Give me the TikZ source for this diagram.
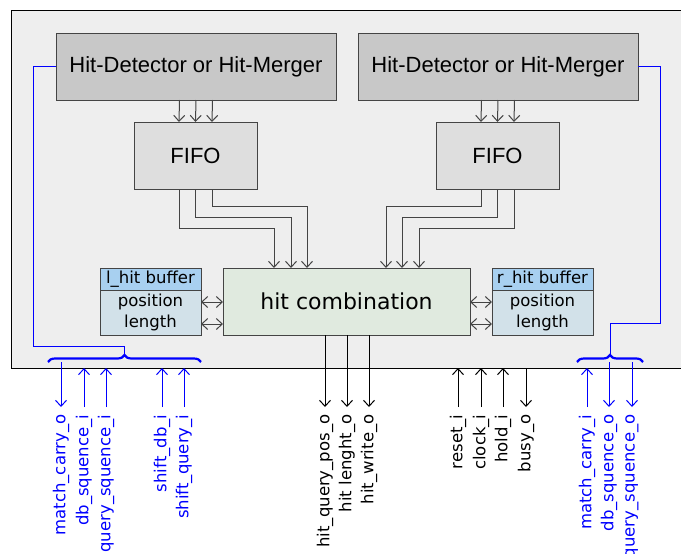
\documentclass[tikz,border=0pt]{standalone}
\usepackage{fontspec}
\setmainfont{DejaVu Sans}
\newfontfamily\arialfont{Liberation Sans}
\usetikzlibrary{arrows.meta,decorations.pathreplacing,calc}

\definecolor{boxline}{RGB}{68,68,68}
\definecolor{framegray}{RGB}{238,238,238}
\definecolor{hdgray}{RGB}{200,200,200}
\definecolor{fifogray}{RGB}{222,222,222}
\definecolor{combgreen}{RGB}{224,234,223}
\definecolor{bufhead}{RGB}{168,208,240}
\definecolor{bufbody}{RGB}{210,225,233}

\begin{document}
\begin{tikzpicture}[x=1pt, y=-1pt,
    >={Straight Barb[length=6pt,width=11pt]},
    every node/.style={inner sep=0pt, outer sep=0pt},
    block/.style={draw=boxline, line width=1pt},
    arialtext/.style={font=\arialfont\fontsize{22}{26}\selectfont},
    buftext/.style={font=\fontsize{16.5}{20.5}\selectfont, align=center},
    wire/.style={draw=boxline, line width=1pt},
    bus/.style={draw=blue, line width=1pt},
    sig/.style={font=\fontsize{16.5}{19}\selectfont, rotate=90, anchor=east, inner xsep=7.5pt, inner ysep=2pt}]
    \useasboundingbox (0,0) rectangle (681,554);

    % outer frame
    \node[draw=black, fill=framegray, line width=1pt, minimum width=689, minimum height=358] (frame) at (355.5,189) {};

    % blocks
    \node[block, arialtext, fill=hdgray, minimum width=280, minimum height=67] (hdl) at (196,66.5) {Hit-Detector or Hit-Merger};
    \node[block, arialtext, fill=hdgray, minimum width=280, minimum height=67] (hdr) at (498,66.5) {Hit-Detector or Hit-Merger};
    \node[block, arialtext, fill=fifogray, minimum width=123, minimum height=67] (fifol) at (195.5,155.5) {FIFO};
    \node[block, arialtext, fill=fifogray, minimum width=123, minimum height=67] (fifor) at (497.5,155.5) {FIFO};
    \node[block, fill=combgreen, minimum width=247, minimum height=67, font=\fontsize{22}{26}\selectfont] (comb) at (346.5,301.5) {hit combination};

    \node[block, buftext, fill=bufhead, minimum width=101, minimum height=22] (lbufh) at (150.5,279) {l\_hit buffer};
    \node[block, buftext, fill=bufbody, minimum width=101, minimum height=45] (lbuf) at (150.5,312.5) {position\\length};
    \node[block, buftext, fill=bufhead, minimum width=101, minimum height=22] (rbufh) at (542.5,279) {r\_hit buffer};
    \node[block, buftext, fill=bufbody, minimum width=101, minimum height=45] (rbuf) at (542.5,312.5) {position\\length};

    % detector to fifo
    \foreach \d in {-16.5, 0, 16.5} {
      \draw[wire, ->] ([xshift=\d pt]hdl.south) -- ([xshift=\d pt]fifol.north);
      \draw[wire, ->] ([xshift=\d pt]hdr.south) -- ([xshift=\d pt]fifor.north);
    }

    % fifo to hit combination
    \foreach \a/\b/\dy in {-16.5/-72.5/39, 0/-55.5/28, 16.5/-39.5/17}
      \draw[wire, ->] ([xshift=\a pt]fifol.south) -- ++(0,\dy) -| ([xshift=\b pt]comb.north);
    \foreach \a/\b/\dy in {-16.5/39.5/17, 0/55.5/28, 16.5/72.5/39}
      \draw[wire, ->] ([xshift=\a pt]fifor.south) -- ++(0,\dy) -| ([xshift=\b pt]comb.north);

    % buffers
    \foreach \dy in {10.5, -11.5} {
      \draw[wire, <->] ([yshift=\dy pt]lbuf.east) -- ([yshift=\dy pt]lbuf.east -| comb.west);
      \draw[wire, <->] ([yshift=\dy pt]rbuf.west) -- ([yshift=\dy pt]rbuf.west -| comb.east);
    }

    % braces
    \coordinate (lbl) at (48,362);
    \coordinate (lbr) at (201,362);
    \coordinate (lbt) at (124.5,355);
    \coordinate (rbl) at (577,362);
    \coordinate (rbr) at (643,362);
    \coordinate (rbt) at (610,355);
    \draw[bus, line width=2.2pt, decorate, decoration={brace, amplitude=7pt}] (lbl) -- (lbr);
    \draw[bus, line width=2.2pt, decorate, decoration={brace, amplitude=7pt}] (rbl) -- (rbr);
    \draw[bus] (hdl.west) -| (33,346) -| (lbt);
    \draw[bus] (hdr.east) -| (660,323) -| (rbt);

    % left signals
    \node[sig, text=blue] (mco) at (61,407) {match\_carry\_o};
    \node[sig, text=blue] (dsi) at (84,407) {db\_squence\_i};
    \node[sig, text=blue] (qsi) at (106,407) {query\_squence\_i};
    \node[sig, text=blue] (sdi) at (162,407) {shift\_db\_i};
    \node[sig, text=blue] (sqi) at (184,407) {shift\_query\_i};
    \draw[bus, ->] (mco.east |- lbl) -- (mco.east);
    \draw[bus, ->] (dsi.east) -- (dsi.east |- frame.south);
    \draw[bus, ->] (qsi.east) -- (qsi.east |- frame.south);
    \draw[bus, ->] (sdi.east) -- (sdi.east |- frame.south);
    \draw[bus, ->] (sqi.east) -- (sqi.east |- frame.south);

    % middle signals
    \node[sig] (hqp) at (325,407) {hit\_query\_pos\_o};
    \node[sig] (hlo) at (347,407) {hit lenght\_o};
    \node[sig] (hwo) at (369,407) {hit\_write\_o};
    \node[sig] (rst) at (458,407) {reset\_i};
    \node[sig] (clk) at (481,407) {clock\_i};
    \node[sig] (hld) at (503,407) {hold\_i};
    \node[sig] (bsy) at (526,407) {busy\_o};
    \draw[->, line width=1pt] (hqp.east |- comb.south) -- (hqp.east);
    \draw[->, line width=1pt] (hlo.east |- comb.south) -- (hlo.east);
    \draw[->, line width=1pt] (hwo.east |- comb.south) -- (hwo.east);
    \draw[->, line width=1pt] (rst.east) -- (rst.east |- frame.south);
    \draw[->, line width=1pt] (clk.east) -- (clk.east |- frame.south);
    \draw[->, line width=1pt] (hld.east) -- (hld.east |- frame.south);
    \draw[->, line width=1pt] (bsy.east |- frame.south) -- (bsy.east);

    % right signals
    \node[sig, text=blue] (mci) at (587,407) {match\_carry\_i};
    \node[sig, text=blue] (dso) at (609,407) {db\_squence\_o};
    \node[sig, text=blue] (qso) at (632,407) {query\_squence\_o};
    \draw[bus, ->] (mci.east) -- (mci.east |- frame.south);
    \draw[bus, ->] (dso.east |- rbl) -- (dso.east);
    \draw[bus, ->] (qso.east |- rbl) -- (qso.east);
\end{tikzpicture}
\end{document}
